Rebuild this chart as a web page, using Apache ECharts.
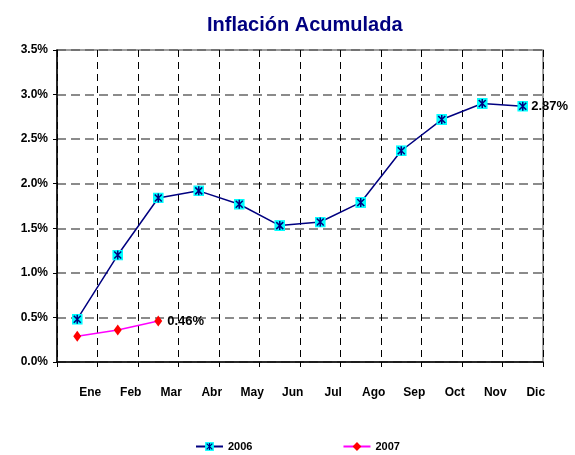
<!DOCTYPE html>
<html>
<head>
<meta charset="utf-8">
<script src="https://cdn.jsdelivr.net/npm/echarts@6/dist/echarts.min.js"></script>
<style>
  html, body { margin: 0; padding: 0; background: #fff; }
  #chart { width: 575px; height: 455px; }
</style>
</head>
<body>
<div id="chart"></div>
<script>
  // datos de inflación acumulada (%)
  const meses = ['Ene', 'Feb', 'Mar', 'Abr', 'May', 'Jun', 'Jul', 'Ago', 'Sep', 'Oct', 'Nov', 'Dic']
  const serie2006 = [0.48, 1.20, 1.84, 1.92, 1.77, 1.53, 1.57, 1.79, 2.37, 2.72, 2.90, 2.87]
  const serie2007 = [0.29, 0.36, 0.46]
  const nombres = ['2006', '2007']

  const fuente = "'Liberation Sans', Arial, sans-serif"

  const svgStar = "<svg xmlns='http://www.w3.org/2000/svg' width='11' height='11'>" +
    "<rect width='11' height='11' fill='#00FFFF'/>" +
    "<path d='M5.5 1V10M2 2L9 9M9 2L2 9' stroke='#000080' stroke-width='1.5' fill='none'/></svg>"
  const starSymbol = 'image://data:image/svg+xml;charset=utf-8,' + encodeURIComponent(svgStar)

  // solo se etiqueta el último punto de cada serie
  function lastLabel(arr) {
    return p => p.dataIndex === arr.length - 1 ? p.value.toFixed(2) + '%' : ''
  }

  const myChart = echarts.init(document.getElementById('chart'))

  const option = {
    animation: false,
    title: {
      text: 'Inflación Acumulada',
      left: 202,
      top: 10,
      textStyle: {
        color: '#000080',
        fontFamily: fuente,
        fontWeight: 'bold',
        fontSize: 20
      }
    },
    legend: {
      data: nombres,
      left: 190,
      top: 436,
      itemWidth: 27,
      itemHeight: 11,
      itemGap: 90,
      textStyle: {
        color: '#000',
        fontFamily: fuente,
        fontWeight: 'bold',
        fontSize: 11
      }
    },
    grid: {
      left: 57,
      right: 32,
      top: 50,
      bottom: 93,
      show: true,
      borderColor: '#808080',
      borderWidth: 1.5
    },
    xAxis: {
      type: 'category',
      data: meses,
      boundaryGap: true,
      axisLine: { lineStyle: { color: '#000', width: 1.5 } },
      axisTick: { show: true, length: 5, lineStyle: { color: '#000' } },
      axisLabel: {
        margin: 25,
        padding: [0, 0, 0, 26],
        color: '#000',
        fontFamily: fuente,
        fontWeight: 'bold',
        fontSize: 12,
        interval: 0
      },
      splitLine: {
        show: true,
        interval: 0,
        lineStyle: { color: '#000', type: [7, 5], width: 1 }
      }
    },
    yAxis: {
      type: 'value',
      min: 0,
      max: 3.5,
      interval: 0.5,
      axisLine: { show: true, lineStyle: { color: '#000', width: 1.5 } },
      axisTick: { show: true, length: 4, lineStyle: { color: '#000' } },
      axisLabel: {
        margin: 9,
        color: '#000',
        fontFamily: fuente,
        fontWeight: 'bold',
        fontSize: 12,
        formatter: v => v.toFixed(1) + '%'
      },
      splitLine: {
        show: true,
        lineStyle: { color: '#666', type: [9, 5], width: 1.5 }
      }
    },
    series: [
      {
        name: nombres[0],
        type: 'line',
        data: serie2006,
        symbol: starSymbol,
        symbolSize: 11,
        lineStyle: { color: '#000080', width: 1.5 },
        itemStyle: { color: '#000080' },
        label: {
          show: true,
          position: 'right',
          distance: 3,
          color: '#000',
          fontFamily: fuente,
          fontWeight: 'bold',
          fontSize: 13,
          formatter: lastLabel(serie2006)
        },
        z: 3
      },
      {
        name: nombres[1],
        type: 'line',
        data: serie2007,
        symbol: 'diamond',
        symbolSize: [8, 11],
        lineStyle: { color: '#FF00FF', width: 1.5 },
        itemStyle: { color: '#FF0000' },
        label: {
          show: true,
          position: 'right',
          distance: 5,
          color: '#000',
          fontFamily: fuente,
          fontWeight: 'bold',
          fontSize: 13,
          formatter: lastLabel(serie2007)
        },
        z: 3
      }
    ]
  }

  myChart.setOption(option)
  window.addEventListener('resize', () => myChart.resize(), false)
</script>
</body>
</html>
